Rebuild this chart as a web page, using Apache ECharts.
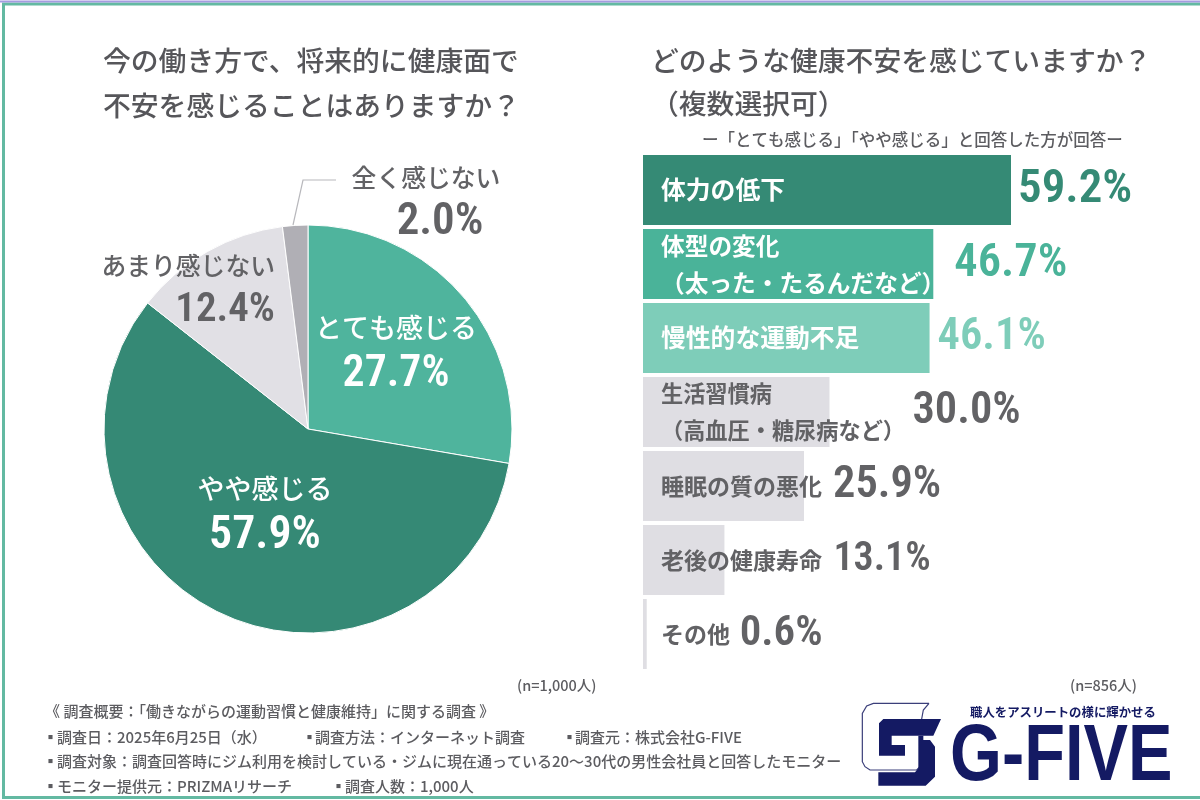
<!DOCTYPE html>
<html><head><meta charset="utf-8">
<style>html,body{margin:0;padding:0;background:#fff}#c{width:1200px;height:800px}</style>
<script src="https://cdn.jsdelivr.net/npm/echarts@6/dist/echarts.min.js"></script>
</head><body><div id="c"></div>
<script>
const pieNames = ['とても感じる','やや感じる','あまり感じない','全く感じない'];
const pieValues = [27.7,57.9,12.4,2.0];
const barNames = ['体力の低下','体型の変化\n（太った・たるんだなど）','慢性的な運動不足','生活習慣病\n（高血圧・糖尿病など）','睡眠の質の悪化','老後の健康寿命','その他'];
const barValues = [59.2,46.7,46.1,30.0,25.9,13.1,0.6];

const pieColors = ['#4FB49D','#358975','#E1E0E5','#B0AFB5'];
const barColors = ['#358A75','#4AB399','#7ECDB9','#DFDEE3','#DFDEE3','#DFDEE3','#DFDEE3'];
const valueColors = ['#358A75','#4AB399','#7ECDB9','#626265','#626265','#626265','#626265'];
const valueGaps = [7,21,8,83,29,109,93];
const valueSizes = [47,46.5,44.5,44.5,44.5,40,43];
const pieValueSizes = [44,46,41,45];
const barLabelKeys = ['w25','w24','w25','g22','g23','g23','g23'];
const pieLabelPlaces = [
  {x:396,y:352,align:'center'},{x:265,y:513,align:'center'},
  {x:275,y:290,align:'right'},{x:426,y:202,align:'center'}];

const JP = '"Noto Sans CJK JP Medium","Noto Sans CJK JP"';
const JPB = '"Noto Sans CJK JP"';
const NUM = '"Roboto Condensed","Liberation Sans"';
const GREY = '#5c5c60';
const NAVY = '#141a63';

function txt(text,x,y,size,opt){
  opt = opt||{};
  return {type:'text',x:x,y:y,z:20,scaleX:opt.scaleX||1,scaleY:opt.scaleY||1,
    style:{text:text,fill:opt.fill||GREY,fontSize:size,fontFamily:opt.family||JP,fontWeight:opt.weight||400,
      align:opt.align||'left',verticalAlign:'middle'}};
}
function logoPts(list){return list.map(p=>[855+p[0]/3,695+p[1]/3]);}
function axisRich(color,size){return {color:color,fontSize:size,fontFamily:JPB,fontWeight:'bold',lineHeight:37};}

const texts = [
  ['今の働き方で、将来的に健康面で',103,60],['不安を感じることはありますか？',103,105],
  ['どのような健康不安を感じていますか？',651,60],['（複数選択可）',651,103]
].map(t=>txt(t[0],t[1],t[2],27.8,{fill:'#56565a'}));
const notes = [
  ['ー「とても感じる」「やや感じる」と回答した方が回答ー',702,140,16.5],
  ['(n=1,000人)',517,685,14.5],['(n=856人)',1070,685,14.5],
  ['《 調査概要：「働きながらの運動習慣と健康維持」に関する調査 》',45,711,15],
  ['▪',43,737,15],['調査日：2025年6月25日（水）',57,737,15],
  ['▪',302,737,15],['調査方法：インターネット調査',315,737,15],
  ['▪',562,737,15],['調査元：株式会社G-FIVE',575,737,15],
  ['▪',43,761,15],['調査対象：調査回答時にジム利用を検討している・ジムに現在通っている20～30代の男性会社員と回答したモニター',57,761,15],
  ['▪',43,786,15],['モニター提供元：PRIZMAリサーチ',57,786,15],
  ['▪',331,786,15],['調査人数：1,000人',345,786,15]
].map(t=>txt(t[0],t[1],t[2],t[3]));

const chart = echarts.init(document.getElementById('c'),null,{renderer:'canvas',width:1200,height:800});
chart.setOption({
  animation:false,
  backgroundColor:'#fff',
  grid:{left:643,top:153,width:497.3,height:518,outerBoundsMode:'none'},
  xAxis:{type:'value',min:0,max:80,show:false},
  yAxis:{type:'category',inverse:true,data:barNames,z:6,
    axisLine:{show:false},axisTick:{show:false},splitLine:{show:false},
    axisLabel:{inside:true,margin:18,align:'left',overflow:'none',width:400,
      formatter:(v,i)=>v.split('\n').map(line=>`{${barLabelKeys[i]}|${line}}`).join('\n'),
      rich:{w25:axisRich('#fff',24.8),w24:axisRich('#fff',23.7),g22:axisRich('#626265',22.2),g23:axisRich('#626265',23)}}},
  series:[
    {type:'pie',center:[308,429],radius:[0,204],startAngle:90,clockwise:true,z:2,
      itemStyle:{borderColor:'#fff',borderWidth:1},
      label:{show:true,position:'inside',
        formatter:p=>`{n|${p.name}}\n{v|${p.value.toFixed(1)}%}`},
      labelLine:{show:false},
      labelLayout:p=>{const s=pieLabelPlaces[p.dataIndex];return {x:s.x,y:s.y,align:s.align,verticalAlign:'middle'};},
      data:pieNames.map((n,i)=>{
        const c=i<2?'#fff':'#626265';
        return {name:n,value:pieValues[i],itemStyle:{color:pieColors[i]},
          label:{rich:{n:{color:c,fontSize:i<2?27:24.8,fontFamily:JP,lineHeight:i<2?46:42},
                       v:{color:c,fontFamily:NUM,fontWeight:600,fontSize:pieValueSizes[i],lineHeight:48,padding:i===3?[0,0,0,28]:0}}}};
      })},
    {type:'bar',barWidth:70,z:2,
      data:barValues.map((v,i)=>({value:v,itemStyle:{color:barColors[i]},
        label:{show:true,position:'right',distance:0,offset:[valueGaps[i],0],color:valueColors[i],
          fontFamily:NUM,fontWeight:600,fontSize:valueSizes[i],formatter:p=>p.value.toFixed(1)+'%'}}))}
  ],
  graphic:{elements:[
    {type:'rect',z:30,shape:{x:3.5,y:4,width:1210,height:793.5},style:{fill:'none',stroke:'#63B9A2',lineWidth:3}},
    {type:'line',z:30,shape:{x1:0,y1:1.5,x2:1200,y2:1.5},style:{stroke:'#A59BE0',lineWidth:2}},
    {type:'polyline',z:20,shape:{points:[[293,225],[303,180],[336,180]]},style:{stroke:'#B8B8BC',lineWidth:1.2,fill:'none'}},
    ...texts,...notes,
    txt('職人をアスリートの様に輝かせる',970,712,12.4,{fill:NAVY,weight:'bold',family:JPB}),
    txt('G-FIVE',950,758,75,{fill:NAVY,family:'"Liberation Sans"',weight:'bold',scaleX:0.89,scaleY:1.06}),
    {type:'polyline',z:20,shape:{points:logoPts([[222,25],[55,25],[35,33],[22,55],[22,200],[30,215],[45,225],[185,225],[200,210],[200,125]])},style:{stroke:'#3b3f7a',lineWidth:1.2,fill:'none'}},
    {type:'polyline',z:20,shape:{points:logoPts([[222,25],[205,45],[200,72]])},style:{stroke:'#3b3f7a',lineWidth:1.2,fill:'none'}},
    {type:'polygon',z:21,shape:{points:logoPts([[72,85],[85,72],[258,72],[235,122],[110,122],[110,150],[150,150],[150,182],[72,182]])},style:{fill:NAVY}},
    {type:'polygon',z:21,shape:{points:logoPts([[190,122],[205,122],[205,135],[225,135],[240,155],[240,245],[212,272],[70,272],[70,232],[180,232],[190,220]])},style:{fill:NAVY}}
  ]}
});
</script></body></html>
